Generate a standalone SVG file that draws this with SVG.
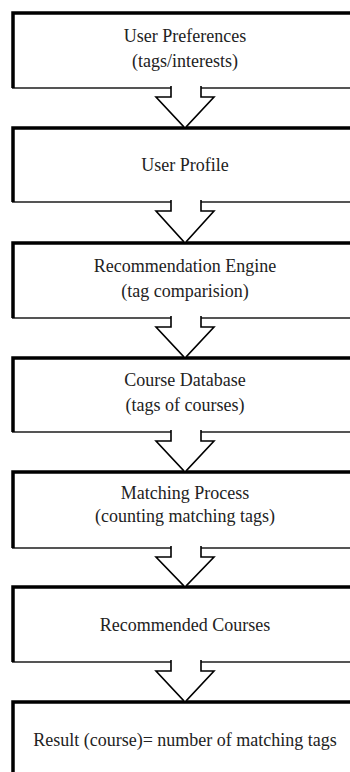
<svg xmlns="http://www.w3.org/2000/svg" width="350" height="772" viewBox="0 0 350 772">
<style>
.box{fill:#fff;stroke:#555;stroke-width:2}
.edge{fill:none;stroke:#000;stroke-width:3.5}
.t{font-family:"Liberation Serif","Times New Roman",serif;font-size:18px;fill:#222;text-anchor:middle}
.arrow{fill:#fff;stroke:#000;stroke-width:1.6;stroke-linejoin:miter}
</style>
<rect width="350" height="772" fill="#fff"/>
<g id="n1"><rect class="box" x="13" y="13" width="350" height="75"/><path class="edge" d="M13,88V13H363"/><text class="t" x="185" y="42">User Preferences</text><text class="t" x="185" y="67">(tags/interests)</text></g>
<g id="n2"><rect class="box" x="13" y="128" width="350" height="74"/><path class="edge" d="M13,202V128H363"/><text class="t" x="185" y="171">User Profile</text></g>
<g id="n3"><rect class="box" x="13" y="243" width="350" height="75"/><path class="edge" d="M13,318V243H363"/><text class="t" x="185" y="272">Recommendation Engine</text><text class="t" x="185" y="297">(tag comparision)</text></g>
<g id="n4"><rect class="box" x="13" y="358" width="350" height="74"/><path class="edge" d="M13,432V358H363"/><text class="t" x="185" y="386">Course Database</text><text class="t" x="185" y="411">(tags of courses)</text></g>
<g id="n5"><rect class="box" x="13" y="472" width="350" height="76"/><path class="edge" d="M13,548V472H363"/><text class="t" x="185" y="499">Matching Process</text><text class="t" x="185" y="522">(counting matching tags)</text></g>
<g id="n6"><rect class="box" x="13" y="587" width="350" height="75"/><path class="edge" d="M13,662V587H363"/><text class="t" x="185" y="631">Recommended Courses</text></g>
<g id="n7"><rect class="box" x="13" y="702" width="350" height="90"/><path class="edge" d="M13,790V702H363"/><text class="t" x="185" y="746">Result (course)= number of matching tags</text></g>
<g id="connectors">
<path class="arrow" d="M171,86V97H156L185,128L214,97H201V86"/>
<path class="arrow" d="M171,200V211H156L185,243L214,211H201V200"/>
<path class="arrow" d="M171,316V327H156L185,358L214,327H201V316"/>
<path class="arrow" d="M171,430V441H156L185,472L214,441H201V430"/>
<path class="arrow" d="M171,546V557H156L185,587L214,557H201V546"/>
<path class="arrow" d="M171,660V671H156L185,702L214,671H201V660"/>
</g>
</svg>
